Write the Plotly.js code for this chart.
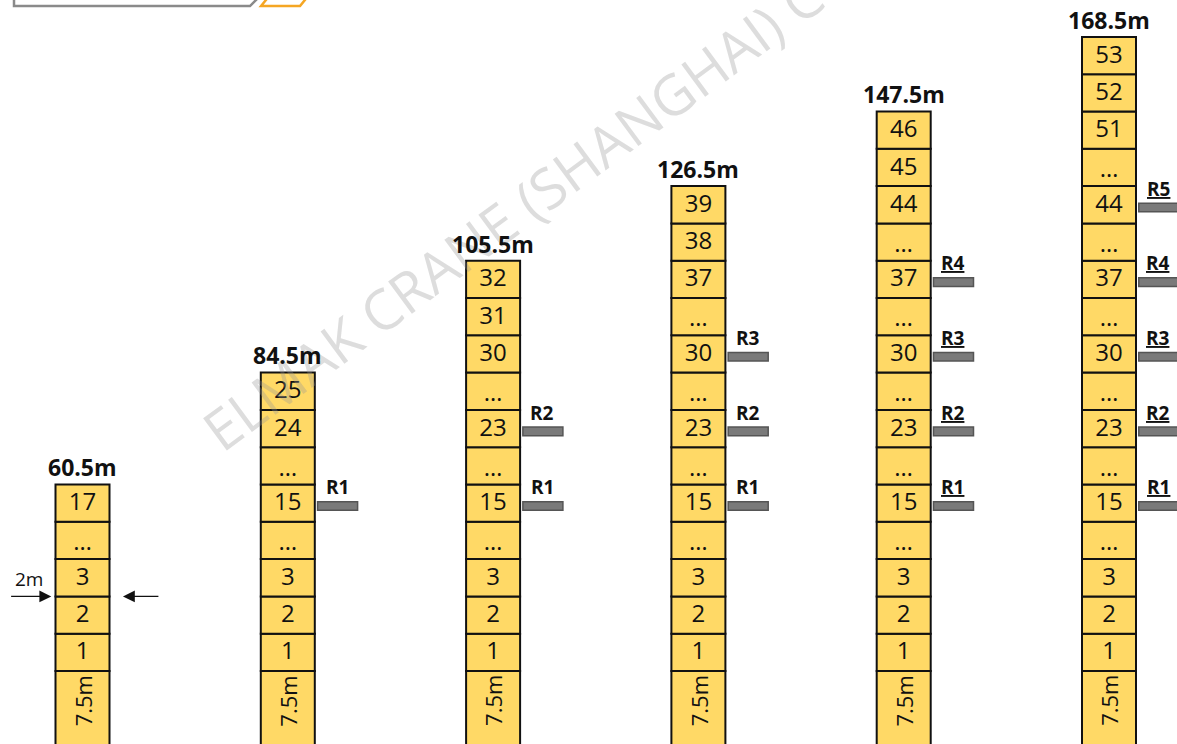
<!DOCTYPE html>
<html><head><meta charset="utf-8">
<script src="https://cdn.plot.ly/plotly-3.0.1.min.js"></script>
<style>html,body{margin:0;padding:0;background:#fff}#chart{width:1177px;height:744px}</style>
</head><body><div id="chart"></div>
<script>
// ---- data ----
const towerHeights = ["60.5m", "84.5m", "105.5m", "126.5m", "147.5m", "168.5m"];
const sectionLabels = [
  ["1", "2", "3", "…", "17"],
  ["1", "2", "3", "…", "15", "…", "24", "25"],
  ["1", "2", "3", "…", "15", "…", "23", "…", "30", "31", "32"],
  ["1", "2", "3", "…", "15", "…", "23", "…", "30", "…", "37", "38", "39"],
  ["1", "2", "3", "…", "15", "…", "23", "…", "30", "…", "37", "…", "44", "45", "46"],
  ["1", "2", "3", "…", "15", "…", "23", "…", "30", "…", "37", "…", "44", "…", "51", "52", "53"]
];
const tieCounts = [0, 1, 2, 3, 4, 5];
const tieLabels = ["R1", "R2", "R3", "R4", "R5"];
const tieSections = ["15", "23", "30", "37", "44"];
const baseSectionLabel = "7.5m";
const baseSectionLength = 7.5;   // metres
const sectionLength = 2;         // metres per standard section
const widthLabel = "2m";
const watermarkText = "ELMAK CRANE (SHANGHAI) CO., LTD";

// ---- layout constants ----
const W = 1177, H = 744;
const halfW = 0.1315;
const fill = "#FFD966";
const shapes = [];
const annotations = [];
const traces = [];

const baseTop = 0;
const baseBottom = -baseSectionLength / sectionLength;

// watermark
annotations.push({xref: "paper", yref: "paper", x: 588 / W, y: 1 - 156 / H, xanchor: "center", yanchor: "middle",
  text: watermarkText, showarrow: false, textangle: -36.5,
  font: {family: "Open Sans", size: 56, color: "rgba(150,150,150,0.32)"}});

towerHeights.forEach((h, i) => {
  const secs = sectionLabels[i];
  shapes.push({type: "rect", xref: "x", yref: "y", x0: i - halfW, x1: i + halfW, y0: baseBottom, y1: baseTop,
    fillcolor: fill, line: {color: "#111", width: 2}, layer: "below"});
  annotations.push({xref: "x", yref: "y", x: i, y: -0.8, text: baseSectionLabel, showarrow: false, textangle: -90,
    font: {family: "Open Sans", size: 22, color: "#111"}});
  const xs = [], ys = [];
  secs.forEach((lab, k) => {
    shapes.push({type: "rect", xref: "x", yref: "y", x0: i - halfW, x1: i + halfW, y0: k, y1: k + 1,
      fillcolor: fill, line: {color: "#111", width: 2}, layer: "below"});
    xs.push(i); ys.push(lab === "…" ? k + 0.40 : k + 0.47);
  });
  traces.push({type: "scatter", mode: "text", x: xs, y: ys, text: secs, hoverinfo: "skip",
    textfont: {family: "Open Sans", size: 24, color: "#111"}, cliponaxis: false});
  annotations.push({xref: "x", yref: "y", x: i, y: secs.length + 0.46, text: "<b>" + h + "</b>", showarrow: false,
    font: {family: "Open Sans", size: 23, color: "#111"}});
  for (let j = 0; j < tieCounts[i]; j++) {
    const k = secs.indexOf(tieSections[j]);
    if (k < 0) continue;
    shapes.push({type: "rect", xref: "x", yref: "y", x0: i + 0.145, x1: i + 0.34, y0: k + 0.31, y1: k + 0.54,
      fillcolor: "#7a7a7a", line: {color: "#555", width: 1.5}});
    const lab = i >= 4 ? "<u><b>" + tieLabels[j] + "</b></u>" : "<b>" + tieLabels[j] + "</b>";
    annotations.push({xref: "x", yref: "y", x: i + 0.24, y: k + 0.93, text: lab, showarrow: false,
      font: {family: "Open Sans", size: 19, color: "#111"}});
  }
});

// width arrows on first tower (between sections 2 and 3)
annotations.push({xref: "x", yref: "y", axref: "x", ayref: "y", x: -0.152, y: 2, ax: -0.355, ay: 2, text: "",
  showarrow: true, arrowhead: 2, arrowsize: 1.7, arrowwidth: 1.4, arrowcolor: "#111"});
annotations.push({xref: "x", yref: "y", axref: "x", ayref: "y", x: 0.197, y: 2, ax: 0.377, ay: 2, text: "",
  showarrow: true, arrowhead: 2, arrowsize: 1.7, arrowwidth: 1.4, arrowcolor: "#111"});
annotations.push({xref: "x", yref: "y", x: -0.26, y: 2.47, text: widthLabel, showarrow: false,
  font: {family: "Open Sans", size: 19, color: "#111"}});

// header decoration (cut off at top)
const px = (x, y) => (x / W).toFixed(4) + "," + (1 - y / H).toFixed(4);
shapes.push({type: "path", xref: "paper", yref: "paper",
  path: "M" + px(14, -10) + " L" + px(14, 6) + " L" + px(250, 6) + " L" + px(266, -10),
  line: {color: "#8a8a8a", width: 2.5}});
shapes.push({type: "path", xref: "paper", yref: "paper",
  path: "M" + px(274, -10) + " L" + px(261, 6) + " L" + px(300, 6) + " L" + px(313, -10),
  line: {color: "#F5A623", width: 2.5}});

const xrange = [-82.5 / 205.3, (W - 82.5) / 205.3];
const unit = 37.3;
const yrange = [(671 - H) / unit, 671 / unit];

Plotly.newPlot("chart", traces, {
  width: W, height: H, margin: {l: 0, r: 0, t: 0, b: 0},
  paper_bgcolor: "#fff", plot_bgcolor: "#fff", showlegend: false,
  xaxis: {range: xrange, visible: false, fixedrange: true},
  yaxis: {range: yrange, visible: false, fixedrange: true},
  shapes: shapes, annotations: annotations
}, {staticPlot: true});
</script></body></html>
